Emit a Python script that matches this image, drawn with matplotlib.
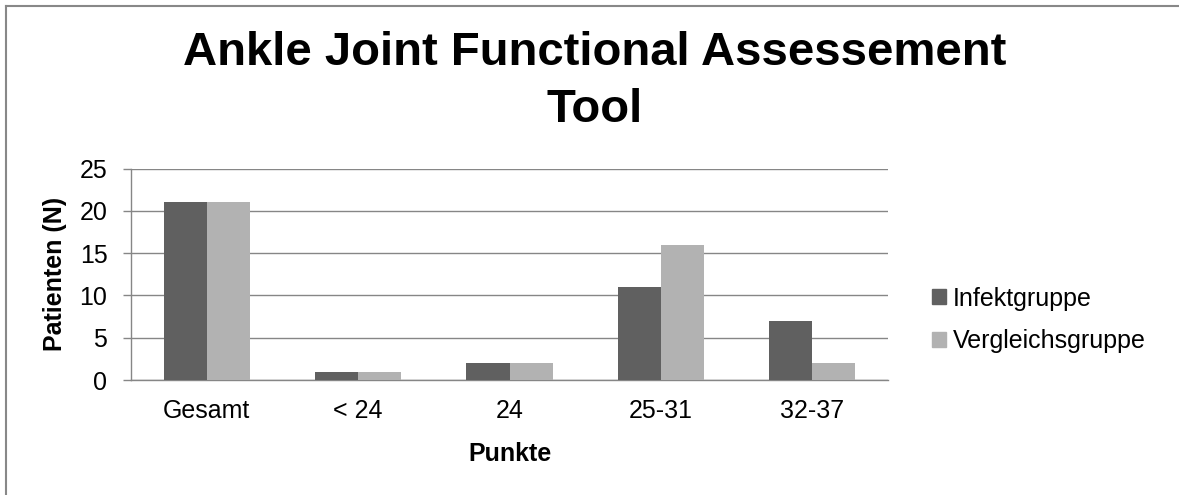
import matplotlib
matplotlib.use("Agg")
import matplotlib.pyplot as plt
import numpy as np
from matplotlib.patches import Rectangle
from matplotlib.lines import Line2D

plt.rcParams['font.family'] = ['Liberation Sans', 'DejaVu Sans']

categories = ["Gesamt", "< 24", "24", "25-31", "32-37"]
infekt = [21, 1, 2, 11, 7]
vergleich = [21, 1, 2, 16, 2]
series_names = ["Infektgruppe", "Vergleichsgruppe"]
yticks = [0, 5, 10, 15, 20, 25]

dark = "#606060"
light = "#B2B2B2"
grid_col = "#868686"

W, H = 1179, 495
fig = plt.figure(figsize=(W / 100, H / 100), dpi=100)
ax = fig.add_axes([131 / W, 1 - 380 / H, (888 - 131) / W, (380 - 168.5) / H])

x = np.arange(len(categories))
bw = 0.285
ax.bar(x - bw / 2, infekt, width=bw, color=dark, zorder=3)
ax.bar(x + bw / 2, vergleich, width=bw, color=light, zorder=3)

ax.set_xlim(-0.5, len(categories) - 0.5)
ax.set_ylim(0, 25)
ax.set_yticks(yticks)
ax.set_xticks(x)
ax.set_xticklabels(categories)
ax.yaxis.grid(True, color=grid_col, linewidth=1.0, zorder=0)
ax.set_axisbelow(True)
for s in ("top", "right"):
    ax.spines[s].set_visible(False)
for s in ("left", "bottom"):
    ax.spines[s].set_color(grid_col)
    ax.spines[s].set_linewidth(1.0)
ax.tick_params(axis="y", length=6, color=grid_col, width=1.0, pad=11, labelsize=18)
ax.tick_params(axis="x", length=0, pad=14, labelsize=18)

# titles and axis labels
fig.text(595 / W, 1 - 53 / H, "Ankle Joint Functional Assessement",
         ha="center", va="center", fontsize=34, fontweight="bold")
fig.text(595 / W, 1 - 110 / H, "Tool",
         ha="center", va="center", fontsize=34, fontweight="bold")
fig.text(55 / W, 1 - 274 / H, "Patienten (N)", rotation=90,
         ha="center", va="center", fontsize=18, fontweight="bold")
fig.text(510 / W, 1 - 454 / H, "Punkte",
         ha="center", va="center", fontsize=18, fontweight="bold")

# legend
handles = [Rectangle((0, 0), 1, 1, color=dark), Rectangle((0, 0), 1, 1, color=light)]
fig.legend(handles, series_names, loc="center left",
           bbox_to_anchor=(932 / W, 1 - 320 / H), frameon=False, fontsize=18,
           handlelength=0.56, handleheight=0.56, handletextpad=0.28,
           labelspacing=0.75, borderpad=0, borderaxespad=0)

# outer frame: left and top edges
fig.add_artist(Line2D([6 / W, 6 / W], [0, 1 - 6 / H], color="#888888", lw=1.5,
                      transform=fig.transFigure))
fig.add_artist(Line2D([6 / W, 1], [1 - 6 / H, 1 - 6 / H], color="#888888", lw=1.5,
                      transform=fig.transFigure))

fig.savefig("out.png", dpi=100, facecolor="white")
